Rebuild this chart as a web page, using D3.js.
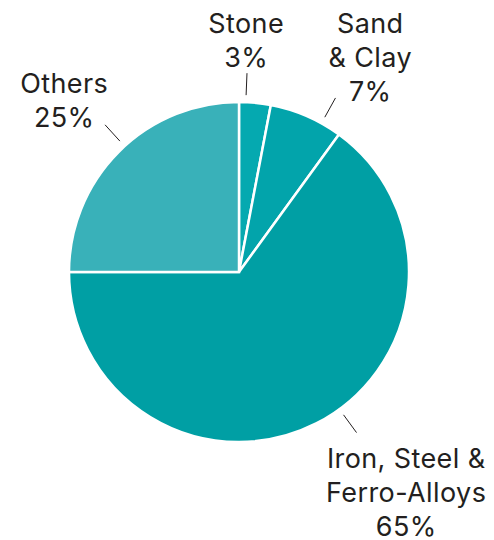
<!DOCTYPE html>
<html>
<head>
<meta charset="utf-8">
<script src="https://cdn.jsdelivr.net/npm/d3@7"></script>
<style>
  html, body { margin: 0; padding: 0; background: #fff; }
  svg text { font-family: "Inter", "Lato", "Noto Sans", sans-serif; fill: #231f20; }
</style>
</head>
<body>
<svg id="chart" width="494" height="540"></svg>
<script>
// Share of material by category (percent)
const categories = ["Stone", "Sand & Clay", "Iron, Steel & Ferro-Alloys", "Others"];
const values = [3, 7, 65, 25];
const labelLines = [["Stone"], ["Sand", "& Clay"], ["Iron, Steel &", "Ferro-Alloys"], ["Others"]];
const colors = ["#05a9b0", "#02a4ab", "#009fa4", "#39b1b9"];

// Label placement: leader-line angle (degrees clockwise from 12 o'clock) and text block anchor
const labelLayout = [
  { angle: 2.3,  x: 246, y: 33 },
  { angle: 29,   x: 370, y: 33 },
  { angle: 143.8, x: 406, y: 468 },
  { angle: -42.3, x: 64, y: 93 }
];

const svg = d3.select("#chart");
const cx = 239, cy = 272, radius = 170;
const g = svg.append("g").attr("transform", `translate(${cx},${cy})`);

const pie = d3.pie().sort(null).value(d => d.value);
const arcs = pie(categories.map((c, i) => ({ name: c, value: values[i], i })));
const arc = d3.arc().innerRadius(0).outerRadius(radius);

g.selectAll("path.slice")
  .data(arcs)
  .join("path")
  .attr("class", "slice")
  .attr("d", arc)
  .attr("fill", d => colors[d.data.i])
  .attr("stroke", "#fff")
  .attr("stroke-width", 2.5)
  .attr("stroke-linejoin", "miter");

// Leader lines
const r1 = radius + 7, r2 = radius + 29;
g.selectAll("line.leader")
  .data(arcs)
  .join("line")
  .attr("class", "leader")
  .each(function (d) {
    const a = labelLayout[d.data.i].angle * Math.PI / 180;
    d3.select(this)
      .attr("x1", Math.sin(a) * r1).attr("y1", -Math.cos(a) * r1)
      .attr("x2", Math.sin(a) * r2).attr("y2", -Math.cos(a) * r2);
  })
  .attr("stroke", "#231f20")
  .attr("stroke-width", 1);

// Labels: name lines followed by percent
const lineH = 34;
const spacing = 0.4;
const labels = svg.selectAll("text.label")
  .data(arcs)
  .join("text")
  .attr("class", "label")
  .attr("text-anchor", "middle")
  .attr("font-size", 27)
  .attr("letter-spacing", spacing);

labels.each(function (d) {
  const L = labelLayout[d.data.i];
  const lines = labelLines[d.data.i].concat([d.data.value + "%"]);
  d3.select(this).selectAll("tspan")
    .data(lines)
    .join("tspan")
    .attr("x", L.x + spacing / 2)
    .attr("y", (t, k) => L.y + k * lineH)
    .text(t => t);
});
</script>
</body>
</html>
